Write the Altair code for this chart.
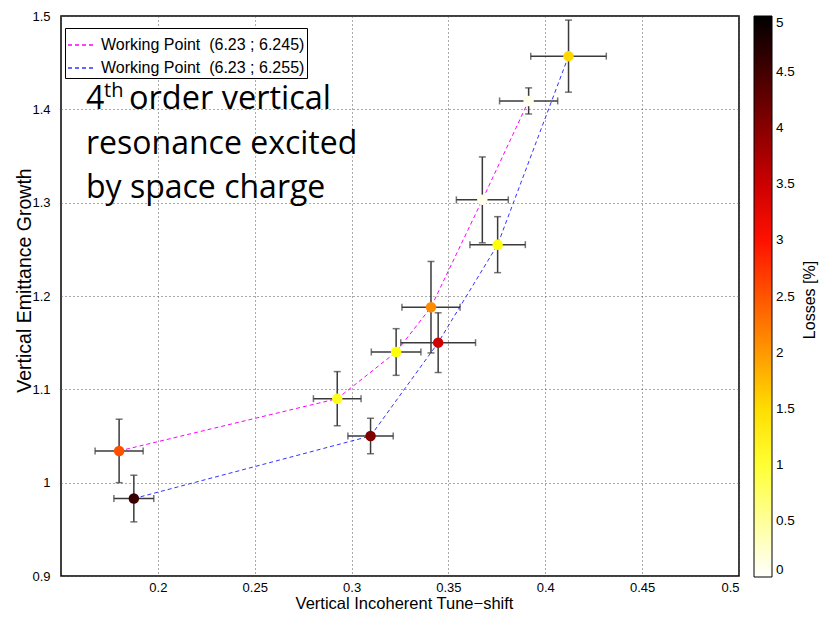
import altair as alt
import pandas as pd

# ---- data ----
series_names = ["Working Point\u00a0 (6.23 ; 6.245)", "Working Point\u00a0 (6.23 ; 6.255)"]

tune_a = [0.180, 0.2926, 0.323, 0.341, 0.3675, 0.3914]
tune_err_a = [0.0124, 0.0123, 0.0128, 0.015, 0.0134, 0.015]
growth_a = [1.034, 1.090, 1.140, 1.188, 1.303, 1.409]
growth_err_a = [0.034, 0.029, 0.025, 0.049, 0.046, 0.014]
loss_a = [2.55, 1.1, 1.2, 2.1, 0.1, 0.1]

tune_b = [0.1876, 0.3098, 0.3447, 0.3754, 0.412]
tune_err_b = [0.0103, 0.0117, 0.0193, 0.0143, 0.0195]
growth_b = [0.983, 1.050, 1.150, 1.255, 1.457]
growth_err_b = [0.025, 0.019, 0.032, 0.030, 0.0386]
loss_b = [4.57, 4.06, 3.46, 1.2, 1.54]

x_ticks = [0.2, 0.25, 0.3, 0.35, 0.4, 0.45, 0.5]
y_ticks = [0.9, 1.0, 1.1, 1.2, 1.3, 1.4, 1.5]
loss_ticks = [0, 0.5, 1, 1.5, 2, 2.5, 3, 3.5, 4, 4.5, 5]

rows = []
for name, t, te, g, ge, l in [
    (series_names[0], tune_a, tune_err_a, growth_a, growth_err_a, loss_a),
    (series_names[1], tune_b, tune_err_b, growth_b, growth_err_b, loss_b),
]:
    for i in range(len(t)):
        rows.append(dict(series=name, order=i, tune=t[i], tune_err=te[i],
                         growth=g[i], growth_err=ge[i], loss=l[i]))
df = pd.DataFrame(rows)

AX_FONT = "Liberation Sans"
x_scale = alt.Scale(domain=[0.15, 0.5], nice=False, zero=False)
y_scale = alt.Scale(domain=[0.9, 1.5], nice=False, zero=False)

X = alt.X("tune:Q", scale=x_scale,
          axis=alt.Axis(values=x_ticks, format="~g", title="Vertical Incoherent Tune\u2212shift",
                        titleFontSize=16.5, titleX=343, titleY=32, titleBaseline="alphabetic"))
Y = alt.Y("growth:Q", scale=y_scale,
          axis=alt.Axis(values=y_ticks, format="~g", title="Vertical Emittance Growth",
                        titleFontSize=19.5, titleX=-37, titleY=264, titleBaseline="middle",
                        titleAngle=270))

base = alt.Chart(df).transform_calculate(
    ylo="datum.growth - datum.growth_err",
    yhi="datum.growth + datum.growth_err",
    xlo="datum.tune - datum.tune_err",
    xhi="datum.tune + datum.tune_err",
)

ERR_COLOR = "#3a3a3a"

vbar = base.mark_rule(color=ERR_COLOR, strokeWidth=1.5).encode(
    x=X, y=alt.Y("ylo:Q", scale=y_scale), y2="yhi:Q")
hbar = base.mark_rule(color=ERR_COLOR, strokeWidth=1.5).encode(
    y=Y, x=alt.X("xlo:Q", scale=x_scale), x2="xhi:Q")
cap_vlo = base.mark_tick(color=ERR_COLOR, orient="horizontal", size=7, thickness=1.5).encode(
    x=X, y=alt.Y("ylo:Q", scale=y_scale))
cap_vhi = base.mark_tick(color=ERR_COLOR, orient="horizontal", size=7, thickness=1.5).encode(
    x=X, y=alt.Y("yhi:Q", scale=y_scale))
cap_hlo = base.mark_tick(color=ERR_COLOR, orient="vertical", size=7, thickness=1.5).encode(
    y=Y, x=alt.X("xlo:Q", scale=x_scale))
cap_hhi = base.mark_tick(color=ERR_COLOR, orient="vertical", size=7, thickness=1.5).encode(
    y=Y, x=alt.X("xhi:Q", scale=x_scale))

lines = base.mark_line(strokeDash=[4, 3], strokeWidth=1).encode(
    x=X, y=Y, order="order:Q",
    stroke=alt.Stroke("series:N",
                      scale=alt.Scale(domain=series_names, range=["#ff00ff", "#3333ff"]),
                      legend=alt.Legend(
                          title=None, orient="none", legendX=4, legendY=12,
                          strokeColor="black", fillColor="white", padding=2,
                          symbolType="stroke", symbolSize=784, symbolDash=[4, 3],
                          symbolStrokeWidth=1.5, labelFont=AX_FONT, labelFontSize=16,
                          labelColor="black", rowPadding=-6, labelOffset=4,
                          labelLimit=400)))

points = base.mark_circle(size=110, opacity=1).encode(
    x=X, y=Y,
    fill=alt.Fill("loss:Q",
                  scale=alt.Scale(domain=[0, 1.25, 3.125, 5],
                                  range=["#ffffff", "#ffff00", "#ff0000", "#000000"],
                                  interpolate="rgb"),
                  legend=alt.Legend(
                      title=None, orient="none", legendX=693, legendY=0,
                      direction="vertical", gradientLength=561, gradientThickness=18,
                      gradientStrokeColor="black", gradientStrokeWidth=1,
                      values=loss_ticks, format="~g", labelFont=AX_FONT, labelFontSize=13.5,
                      labelColor="black", labelOverlap=False, labelOffset=4)))

loss_title = alt.Chart(pd.DataFrame({"t": ["Losses [%]"]})).mark_text(
    align="center", baseline="middle", angle=270, font=AX_FONT, fontSize=16, color="black").encode(
    text="t:N", x=alt.value(749), y=alt.value(284))

TXT_FONT = "Open Sans"
t4 = alt.Chart(pd.DataFrame({"t": ["4"]})).mark_text(
    align="left", baseline="alphabetic", font=TXT_FONT, fontSize=32, color="black").encode(
    text="t:N", x=alt.value(25), y=alt.value(93))
tth = alt.Chart(pd.DataFrame({"t": ["th"]})).mark_text(
    align="left", baseline="alphabetic", font=TXT_FONT, fontSize=20, color="black").encode(
    text="t:N", x=alt.value(43), y=alt.value(81))
t1 = alt.Chart(pd.DataFrame({"t": ["order vertical"]})).mark_text(
    align="left", baseline="alphabetic", font=TXT_FONT, fontSize=32.5, color="black").encode(
    text="t:N", x=alt.value(68), y=alt.value(93))
t2 = alt.Chart(pd.DataFrame({"t": ["resonance excited"]})).mark_text(
    align="left", baseline="alphabetic", font=TXT_FONT, fontSize=32, color="black").encode(
    text="t:N", x=alt.value(25), y=alt.value(138))
t3 = alt.Chart(pd.DataFrame({"t": ["by space charge"]})).mark_text(
    align="left", baseline="alphabetic", font=TXT_FONT, fontSize=32, color="black").encode(
    text="t:N", x=alt.value(25), y=alt.value(182))

chart = alt.layer(
    lines, vbar, hbar, cap_vlo, cap_vhi, cap_hlo, cap_hhi, points, loss_title, t4, tth, t1, t2, t3
).resolve_scale(fill="independent", stroke="independent").properties(
    width=678, height=560,
    autosize=alt.AutoSizeParams(type="none"),
    padding={"left": 61, "top": 16, "right": 88, "bottom": 45},
    background="white",
).configure_view(
    stroke="black", strokeWidth=1.5
).configure_axis(
    labelFont=AX_FONT, labelFontSize=13, labelColor="black",
    titleFont=AX_FONT, titleFontSize=16, titleFontWeight="normal", titleColor="black",
    domain=False, ticks=False,
    grid=True, gridColor="#555555", gridDash=[1, 3], gridOpacity=1, gridWidth=1,
).configure_axisX(labelPadding=5).configure_axisY(labelPadding=11)

chart.save("out.html", embed_options={"renderer": "svg", "actions": False})
